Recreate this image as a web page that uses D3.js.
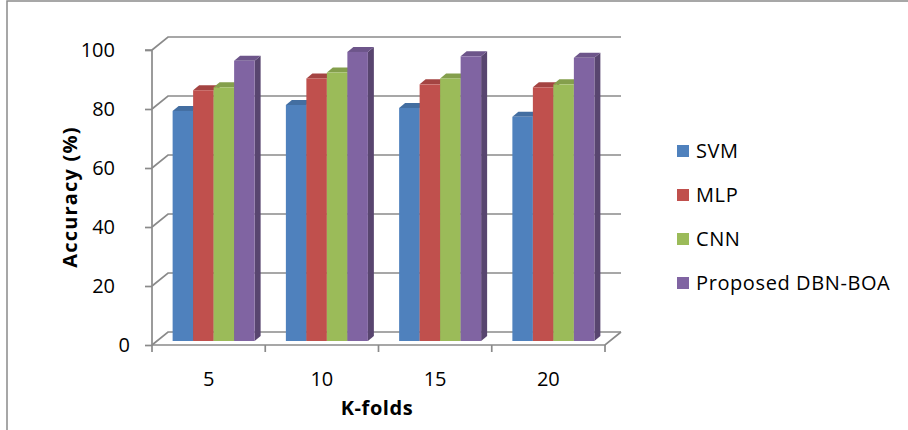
<!DOCTYPE html>
<html>
<head>
<meta charset="utf-8">
<script src="https://cdn.jsdelivr.net/npm/d3@7"></script>
<style>
  html, body { margin: 0; padding: 0; background: #fff; }
  svg { display: block; }
  text { font-family: "Open Sans", "Noto Sans", sans-serif; fill: #000; }
</style>
</head>
<body>
<script>
// K-fold accuracy comparison data
const categories = ["5", "10", "15", "20"];
const seriesNames = ["SVM", "MLP", "CNN", "Proposed DBN-BOA"];
const svmValues = [78, 80, 79, 76];
const mlpValues = [85, 89, 87, 86];
const cnnValues = [86, 91, 89, 87];
const dbnBoaValues = [95, 98, 96.5, 96];
const yTicks = [0, 20, 40, 60, 80, 100];
const seriesColors = ["#4F81BD", "#C0504D", "#9BBB59", "#8064A2"];

const seriesValues = [svmValues, mlpValues, cnnValues, dbnBoaValues];

const W = 908, H = 430;
const svg = d3.select("body").append("svg").attr("width", W).attr("height", H);

// outer chart frame
svg.append("rect").attr("x", 7).attr("y", 1).attr("width", W + 10).attr("height", H + 10)
  .attr("fill", "none").attr("stroke", "#8a8a8a").attr("stroke-width", 1.5);

// front plane scales
const x = d3.scaleBand().domain(categories).range([152, 605]).padding(0);
const y = d3.scaleLinear().domain([0, 100]).range([345, 50]);
// oblique depth of the plot box
const depth = { dx: 16, dy: -13 };
const gridColor = "#8a8a8a";
const fontSize = 20;

const grid = svg.append("g").attr("fill", "none").attr("stroke", gridColor).attr("stroke-width", 1.7);

// back wall gridlines plus the diagonal links to the value axis
yTicks.forEach(t => {
  const y0 = y(t);
  grid.append("path")
    .attr("d", `M${x.range()[0]},${y0} L${x.range()[0] + depth.dx},${y0 + depth.dy} L${x.range()[1] + depth.dx},${y0 + depth.dy}`);
});
// floor front edge and right edge
grid.append("path")
  .attr("d", `M${x.range()[0]},${y(0)} L${x.range()[1]},${y(0)} L${x.range()[1] + depth.dx},${y(0) + depth.dy}`);

// value axis
const yAxis = d3.axisLeft(y).tickValues(yTicks).tickSize(7).tickPadding(30);
const gy = svg.append("g").attr("transform", `translate(${x.range()[0]},0)`).call(yAxis);
gy.select(".domain").attr("stroke", gridColor).attr("stroke-width", 1.7)
  .attr("d", `M-7,${y(100)}H0V${y(0)}`);
gy.selectAll(".tick line").attr("stroke", gridColor).attr("stroke-width", 1.7);
gy.selectAll(".tick text").attr("font-size", fontSize).attr("font-family", "Open Sans").attr("fill", "#000");
// the zero label sits at the floor corner
gy.selectAll(".tick text").filter(d => d === 0).attr("x", -22);
gy.select(".domain").raise();

// category axis ticks at band boundaries
const boundaries = categories.map(c => x(c)).concat([x.range()[1]]);
svg.append("g").selectAll("line").data(boundaries).join("line")
  .attr("x1", d => d).attr("x2", d => d)
  .attr("y1", y(0)).attr("y2", y(0) + 7)
  .attr("stroke", gridColor).attr("stroke-width", 1.7);
svg.append("g").selectAll("text").data(categories).join("text")
  .attr("x", d => x(d) + x.bandwidth() / 2)
  .attr("y", 386)
  .attr("text-anchor", "middle")
  .attr("font-size", fontSize)
  .text(d => d);

// bars: clustered boxes standing on the floor
const clusterWidth = 82;
const inner = d3.scaleBand().domain(seriesNames).range([0, clusterWidth]).padding(0);
const barFront = { dx: 5, dy: -4 };
const barDepth = { dx: 6, dy: -5 };

const bars = svg.append("g");
categories.forEach((cat, ci) => {
  const gx = x(cat) + (x.bandwidth() - clusterWidth) / 2 + barFront.dx;
  seriesNames.forEach((name, si) => {
    const v = seriesValues[si][ci];
    const color = seriesColors[si];
    const x0 = gx + inner(name);
    const x1 = x0 + inner.bandwidth();
    const yTop = y(v) + barFront.dy;
    const yBot = y(0) + barFront.dy;
    const g = bars.append("g");
    // right side face
    g.append("path")
      .attr("d", `M${x1},${yTop} L${x1 + barDepth.dx},${yTop + barDepth.dy} L${x1 + barDepth.dx},${yBot + barDepth.dy} L${x1},${yBot} Z`)
      .attr("fill", d3.color(color).darker(1.05));
    // top face
    g.append("path")
      .attr("d", `M${x0},${yTop} L${x0 + barDepth.dx},${yTop + barDepth.dy} L${x1 + barDepth.dx},${yTop + barDepth.dy} L${x1},${yTop} Z`)
      .attr("fill", d3.color(color).darker(0.45));
    // front face
    g.append("rect")
      .attr("x", x0).attr("y", yTop)
      .attr("width", x1 - x0).attr("height", yBot - yTop)
      .attr("fill", color);
  });
});

// axis titles
svg.append("text")
  .attr("transform", "translate(77,197) rotate(-90)")
  .attr("text-anchor", "middle")
  .attr("font-size", fontSize)
  .attr("font-weight", "bold")
  .attr("letter-spacing", 1.2)
  .text("Accuracy (%)");
svg.append("text")
  .attr("x", 377).attr("y", 415)
  .attr("text-anchor", "middle")
  .attr("font-size", fontSize)
  .attr("font-weight", "bold")
  .attr("letter-spacing", 0.6)
  .text("K-folds");

// legend
const legendY = d3.scalePoint().domain(seriesNames).range([151, 283]);
const legend = svg.append("g").selectAll("g").data(seriesNames).join("g")
  .attr("transform", d => `translate(677,${legendY(d)})`);
legend.append("rect")
  .attr("x", 0).attr("y", -6).attr("width", 12).attr("height", 12)
  .attr("fill", (d, i) => seriesColors[i]);
legend.append("text")
  .attr("x", 19).attr("y", 0).attr("dy", "0.35em")
  .attr("font-size", fontSize)
  .attr("letter-spacing", 0.6)
  .text(d => d);
</script>
</body>
</html>
